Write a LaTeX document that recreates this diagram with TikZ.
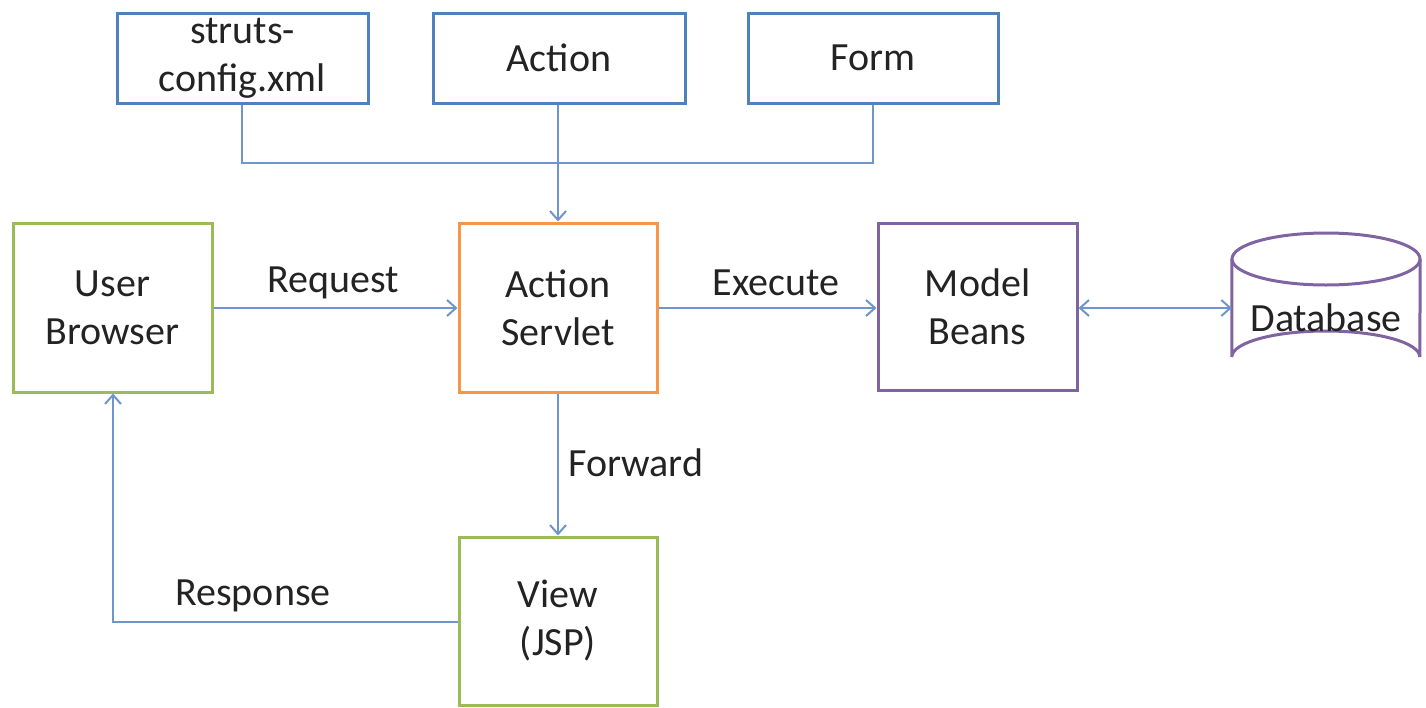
\documentclass[tikz,border=0pt]{standalone}
\usepackage{fontspec}
\setmainfont{Carlito}
\usetikzlibrary{arrows.meta}
\definecolor{bluebox}{RGB}{79,129,189}
\definecolor{greenbox}{RGB}{155,187,89}
\definecolor{orangebox}{RGB}{247,150,70}
\definecolor{purplebox}{RGB}{128,100,162}
\definecolor{conn}{RGB}{110,150,205}
\definecolor{txt}{RGB}{35,35,35}
\begin{document}
\begin{tikzpicture}[x=1pt,y=-1pt,
  box/.style={draw, line width=3pt, align=center, text=txt, inner sep=0pt,
    font=\fontsize{40}{48}\selectfont},
  lbl/.style={text=txt, inner sep=0pt, font=\fontsize{40}{48}\selectfont},
  conline/.style={draw=conn, line width=2pt},
  arr/.style={conline, -{Straight Barb[length=9pt,width=16pt,line width=2pt]}},
  darr/.style={conline, {Straight Barb[length=9pt,width=16pt,line width=2pt]}-{Straight Barb[length=9pt,width=16pt,line width=2pt]}}]
\useasboundingbox (0,0) rectangle (1426,707);
\node[box, draw=bluebox, minimum width=251pt, minimum height=90pt] (struts) at (242.5,58) {struts-\\config.xml};
\node[box, draw=bluebox, minimum width=252pt, minimum height=90pt] (action) at (559,58) {Action};
\node[box, draw=bluebox, minimum width=250pt, minimum height=90pt] (form) at (873,58) {Form};
\node[box, draw=greenbox, minimum width=199pt, minimum height=169pt] (user) at (112.5,307.5) {User\\Browser};
\node[box, draw=orangebox, minimum width=198pt, minimum height=169pt] (servlet) at (558,307.5) {Action\\Servlet};
\node[box, draw=purplebox, minimum width=199pt, minimum height=167pt] (model) at (977.5,306.5) {Model\\Beans};
\node[box, draw=greenbox, minimum width=198pt, minimum height=168pt] (view) at (558,621) {View\\(JSP)};
% database cylinder
\node[draw=none, minimum width=188pt, minimum height=150pt, inner sep=0pt] (db) at (1326,308) {};
\draw[purplebox, line width=3pt] (db.west |- 0,259) -- (db.west |- 0,357)
  arc[start angle=180, end angle=360, x radius=94pt, y radius=-26pt] -- (db.east |- 0,259);
\draw[purplebox, line width=3pt] (1326,259) ellipse[x radius=94pt, y radius=26pt];
\node[lbl] (dbtext) at (1326,318) {Database};
% connectors
\coordinate (j1) at (242,163);
\coordinate (j2) at (873,163);
\draw[conline] (struts.south -| j1) -- (j1) -- (j2) -- (form.south -| j2);
\draw[arr] (action.south -| servlet.north) -- (servlet.north);
\draw[arr] (user.east |- 0,308) -- (servlet.west |- 0,308);
\draw[arr] (servlet.east |- 0,308) -- (model.west |- 0,308);
\draw[darr] (model.east |- 0,308) -- (db.west |- 0,308);
\draw[arr] (servlet.south) -- (view.north);
\coordinate (r1) at (113,622);
\draw[arr] (view.west |- r1) -- (r1) -- (user.south -| r1);
% labels
\node[lbl] (lreq) at (333,283) {Request};
\node[lbl] (lexe) at (776,283) {Execute};
\node[lbl, anchor=west] (lfwd) at (568,463) {Forward};
\node[lbl] (lres) at (253,596) {Response};
\end{tikzpicture}
\end{document}
